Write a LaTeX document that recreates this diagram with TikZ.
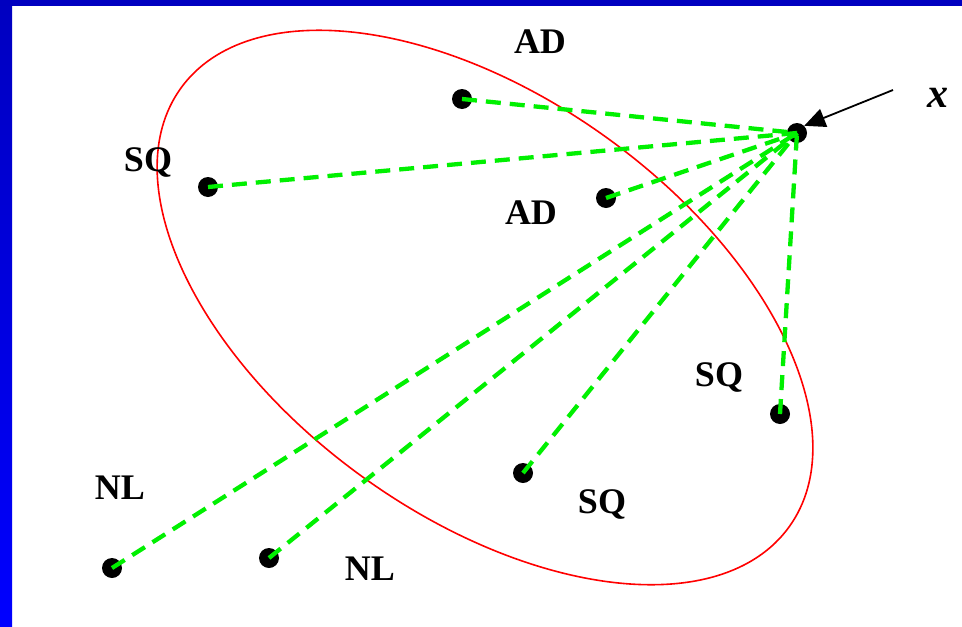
\documentclass[tikz,border=0pt]{standalone}
\usepackage{fontspec}
\setmainfont{Liberation Serif}
\usetikzlibrary{arrows.meta}
\definecolor{topblue}{HTML}{0000C0}
\definecolor{sideblue}{HTML}{0000FF}
\definecolor{lgreen}{HTML}{00F000}
\tikzset{
  dot/.style={circle, fill=black, inner sep=0pt, minimum size=20pt},
  lbl/.style={font=\fontsize{36}{38}\selectfont\bfseries, inner sep=0pt},
  link/.style={lgreen, line width=4.3pt, dash pattern=on 15pt off 9pt},
}
\begin{document}
\begin{tikzpicture}[x=1pt,y=-1pt]
\useasboundingbox (0,0) rectangle (962,627);
\fill[white] (0,0) rectangle (962,627);
% border
\shade[top color=topblue, bottom color=sideblue] (0,0) rectangle (12,627);
\fill[topblue] (0,0) rectangle (962,5.5);
% ellipse
\draw[red, line width=1.6pt, rotate around={-35.8:(485,307.5)}] (485,307.5) ellipse [x radius=375pt, y radius=209pt];
% dots
\node[dot] (x)   at (797,133) {};
\node[dot] (ad1) at (462,99) {};
\node[dot] (sq1) at (208,187) {};
\node[dot] (ad2) at (606,198) {};
\node[dot] (sq2) at (780,414) {};
\node[dot] (sq3) at (523,473) {};
\node[dot] (nl1) at (269,558) {};
\node[dot] (nl2) at (112,568) {};
% links
\foreach \n in {ad1,sq1,ad2,sq2,sq3,nl1,nl2}
  \draw[link] (\n.center) -- (x.center);
% labels
\node[lbl] at (540,42) {AD};
\node[lbl] at (148,162) {SQ};
\node[lbl] at (531,213) {AD};
\node[lbl] at (719,377) {SQ};
\node[lbl] at (602,504) {SQ};
\node[lbl] at (120,488) {NL};
\node[lbl] at (370,569) {NL};
\node[font=\fontsize{42}{44}\selectfont\bfseries\itshape, inner sep=0pt] (xl) at (938,98) {x};
% arrow
\coordinate (tail) at (893,90);
\draw[black, line width=1.8pt, -{Triangle[length=21pt,width=19pt]}] (tail) -- (x.north east);
\end{tikzpicture}
\end{document}
